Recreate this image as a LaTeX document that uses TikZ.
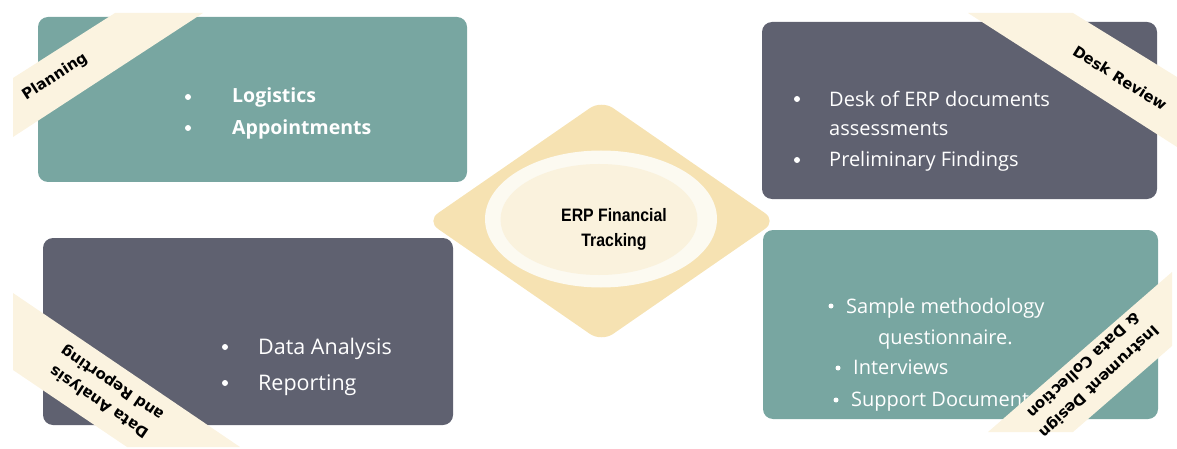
\documentclass[tikz,border=0pt]{standalone}
\usepackage{fontspec}
\setmainfont{Open Sans}
\newfontfamily\tagfont{DejaVu Sans}
\newfontfamily\hubfont[FakeStretch=0.88]{Liberation Sans}
\usetikzlibrary{shapes.geometric}

\definecolor{phaseteal}{HTML}{78A6A1}
\definecolor{phaseslate}{HTML}{5F6170}
\definecolor{ribboncream}{HTML}{FBF3E0}
\definecolor{hubgold}{HTML}{F6E2B2}
\definecolor{ringlight}{HTML}{FCFAF1}
\definecolor{ringcream}{HTML}{FAF2DD}

\tikzset{
	phase/.style={rectangle,rounded corners=10pt,inner sep=0pt},
	ribbon/.style={fill=ribboncream},
	tag/.style={font=\tagfont\bfseries\fontsize{15}{23}\selectfont,align=center,inner sep=0pt},
	dot/.style={circle,fill=white,inner sep=0pt,minimum size=6pt},
	item/.style={anchor=base west,text=white,inner sep=0pt,font=\fontsize{20}{24}\selectfont}
}

\begin{document}
\begin{tikzpicture}[x=1pt,y=-1pt]
	\useasboundingbox (0,0) rectangle (1177,449);

	\node[phase,fill=phaseteal,minimum width=429pt,minimum height=165pt] (planbox) at (252.5,99.5) {};
	\node[phase,fill=phaseslate,minimum width=395pt,minimum height=177pt] (deskbox) at (959.5,110.5) {};
	\node[phase,fill=phaseslate,minimum width=410pt,minimum height=187pt] (reportbox) at (248,331.5) {};
	\node[phase,fill=phaseteal,minimum width=395pt,minimum height=189pt] (collectbox) at (960.5,324.5) {};

	\node[diamond,fill=hubgold,minimum width=350pt,minimum height=242pt,rounded corners=14pt,inner sep=0pt] (hub) at (601.5,221) {};
	\node[ellipse,fill=ringlight,minimum width=232pt,minimum height=137pt,inner sep=0pt] (ring) at (601,219) {};
	\node[ellipse,fill=ringcream,minimum width=197pt,minimum height=111pt,inner sep=0pt] (core) at (599,219.5) {};
	\node[font=\hubfont\bfseries\fontsize{18}{25}\selectfont,align=center,inner sep=0pt] (hubtext) at (614,229) {ERP Financial\\Tracking};

	\node[dot] (p1) at (188,97) {};
	\node[dot] (p2) at (188,128) {};
	\node[item,font=\bfseries\fontsize{19.5}{24}\selectfont] (logistics) at (232,103) {Logistics};
	\node[item,font=\bfseries\fontsize{19.5}{24}\selectfont] (appointments) at (232,135) {Appointments};

	\node[dot] (d1) at (797,99) {};
	\node[dot] (d2) at (797,160) {};
	\node[item] (deskdocs) at (829,107) {Desk of ERP documents};
	\node[item] (assess) at (829,136) {assessments};
	\node[item] (findings) at (829,167) {Preliminary Findings};

	\node[dot] (r1) at (225,347) {};
	\node[dot] (r2) at (225,383) {};
	\node[item,font=\fontsize{21.5}{24}\selectfont] (analysis) at (258,354) {Data Analysis};
	\node[item,font=\fontsize{21.5}{24}\selectfont] (reporting) at (258,390) {Reporting};

	\node[dot,minimum size=5pt] (c1) at (831,306) {};
	\node[dot,minimum size=5pt] (c2) at (838,368) {};
	\node[dot,minimum size=5pt] (c3) at (836,400) {};
	\node[item] (sample) at (846,313) {Sample methodology};
	\node[item] (questionnaire) at (878,344) {questionnaire.};
	\node[item] (interviews) at (853,374) {Interviews};
	\node[item] (support) at (851,406) {Support Documents};

	\fill[ribbon] (13,78) -- (115,13) -- (203,13) -- (13,137) -- cycle;
	\fill[ribbon] (968,13) -- (1073,13) -- (1177,77) -- (1177,147) -- cycle;
	\fill[ribbon] (13,293) -- (240,447) -- (127,447) -- (13,370) -- cycle;
	\fill[ribbon] (988,432) -- (1172,272) -- (1172,346) -- (1073,432) -- cycle;

	\node[tag,rotate=33] (plantag) at (55,77) {Planning};
	\node[tag,rotate=-32] (desktag) at (1120,78) {Desk Review};
	\node[tag,rotate=146] (reporttag) at (106,392) {Data Analysis\\and Reporting};
	\node[tag,rotate=-137] (collecttag) at (1092,374) {Instrument Design\\\& Data Collection};
\end{tikzpicture}
\end{document}
